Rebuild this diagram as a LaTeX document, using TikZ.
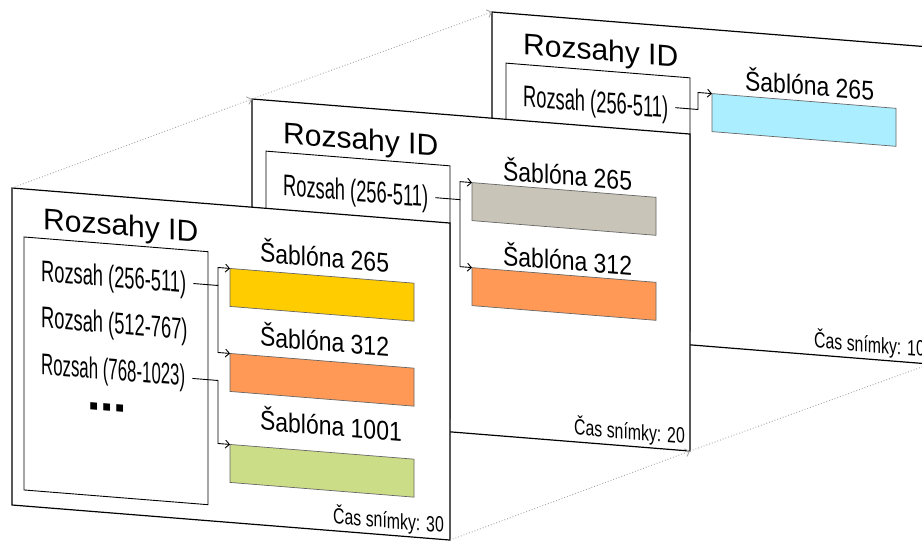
\documentclass[tikz,border=0pt]{standalone}
\usepackage{fontspec}
\setmainfont{Liberation Sans}
\usetikzlibrary{arrows.meta}

\definecolor{tplyellow}{HTML}{FFCC00}
\definecolor{tplorange}{HTML}{FF9955}
\definecolor{tplgreen}{HTML}{CCDD88}
\definecolor{tplgray}{HTML}{C8C4B7}
\definecolor{tplcyan}{HTML}{AAEEFF}

\begin{document}
\begin{tikzpicture}[x=1pt,y=-1pt,
    >={Straight Barb[length=4pt,width=8pt]},
    snapshot/.style={draw,fill=white,line width=1.2pt,anchor=north west,
      minimum width=438pt,minimum height=317pt,inner sep=0pt,outer sep=0pt},
    idbox/.style={draw,line width=0.9pt,anchor=north west,
      minimum width=184pt,minimum height=253pt,inner sep=0pt,outer sep=0pt},
    heading/.style={anchor=base west,inner sep=0pt,font=\fontsize{30}{30}\selectfont},
    rangetext/.style={anchor=base west,inner sep=0pt,xscale=0.61,font=\fontsize{30}{30}\selectfont},
    tplname/.style={anchor=base west,inner sep=0pt,xscale=0.85,font=\fontsize{27}{27}\selectfont},
    tplbar/.style={draw=black!60,line width=0.7pt,anchor=north west,
      minimum width=184pt,minimum height=38pt,inner sep=0pt,outer sep=0pt},
    stamp/.style={anchor=base east,inner sep=0pt,xscale=0.72,font=\fontsize{22}{22}\selectfont},
    link/.style={->,line width=0.9pt},
    trail/.style={->,dotted,draw=black!35,line width=0.9pt}]
  \path[use as bounding box,clip] (0,0) rectangle (922,541);

  % snapshot at time 10 (back)
  \begin{scope}[shift={(492,12)},yslant=-0.08,transform shape]
    \node[snapshot] (snap10) at (0,0) {};
    \node[heading] (head10) at (31,40) {Rozsahy ID};
    \node[idbox] (ids10) at (14,50) {};
    \node[rangetext] (r10a) at (31,92) {Rozsah (256-511)};
    \node[tplname] (n10a) at (253,58) {Šablóna 265};
    \node[tplbar,fill=tplcyan] (t10a) at (220,64) {};
    \node[stamp] (time10) at (433,310) {Čas snímky: 10};
    \draw[link] (r10a.base east) ++(7,-11) -- (206,81) |- (t10a.north west);
  \end{scope}

  % snapshot at time 20
  \begin{scope}[shift={(252,99)},yslant=-0.08,transform shape]
    \node[snapshot] (snap20) at (0,0) {};
    \node[heading] (head20) at (31,42) {Rozsahy ID};
    \node[idbox] (ids20) at (14,51) {};
    \node[rangetext] (r20a) at (31,94) {Rozsah (256-511)};
    \node[tplname] (n20a) at (251,61) {Šablóna 265};
    \node[tplbar,fill=tplgray] (t20a) at (220,66) {};
    \node[tplname] (n20b) at (251,146) {Šablóna 312};
    \node[tplbar,fill=tplorange] (t20b) at (220,151) {};
    \node[stamp] (time20) at (433,310) {Čas snímky: 20};
    \draw[link] (r20a.base east) ++(7,-10) -- (208,84) coordinate (j20) |- (t20a.north west);
    \draw[link] (j20) |- (t20b.north west);
  \end{scope}

  % snapshot at time 30 (front)
  \begin{scope}[shift={(12,188)},yslant=-0.08,transform shape]
    \node[snapshot] (snap30) at (0,0) {};
    \node[heading] (head30) at (31,39) {Rozsahy ID};
    \node[idbox] (ids30) at (12,48) {};
    \node[rangetext] (r30a) at (29,91) {Rozsah (256-511)};
    \node[rangetext] (r30b) at (29,137.5) {Rozsah (512-767)};
    \node[rangetext,xscale=0.92] (r30c) at (29,184) {Rozsah (768-1023)};
    \node[anchor=base west,inner sep=0pt,text height=8pt,text depth=0pt,
      font=\fontsize{48}{48}\selectfont\bfseries] (more30) at (75,215) {...};
    \node[tplname] (n30a) at (248,54) {Šablóna 265};
    \node[tplbar,fill=tplyellow] (t30a) at (218,63) {};
    \node[tplname] (n30b) at (248,138) {Šablóna 312};
    \node[tplbar,fill=tplorange] (t30b) at (218,148) {};
    \node[tplname] (n30c) at (248,222) {Šablóna 1001};
    \node[tplbar,fill=tplgreen] (t30c) at (218,239) {};
    \node[stamp] (time30) at (432,310) {Čas snímky: 30};
    \draw[link] (r30a.base east) ++(7,-10) -- (206,81) coordinate (j30) |- (t30a.north west);
    \draw[link] (j30) |- (t30b.north west);
    \draw[link] (r30c.base east) ++(7,-8) -- (206,176) |- (t30c.north west);
  \end{scope}

  % time axis
  \draw[trail] (snap30.north west) -- (snap20.north west);
  \draw[trail] (snap20.north west) -- (snap10.north west);
  \draw[trail] (snap30.south east) -- (snap20.south east);
  \draw[trail] (snap20.south east) -- (snap10.south east);
\end{tikzpicture}
\end{document}
